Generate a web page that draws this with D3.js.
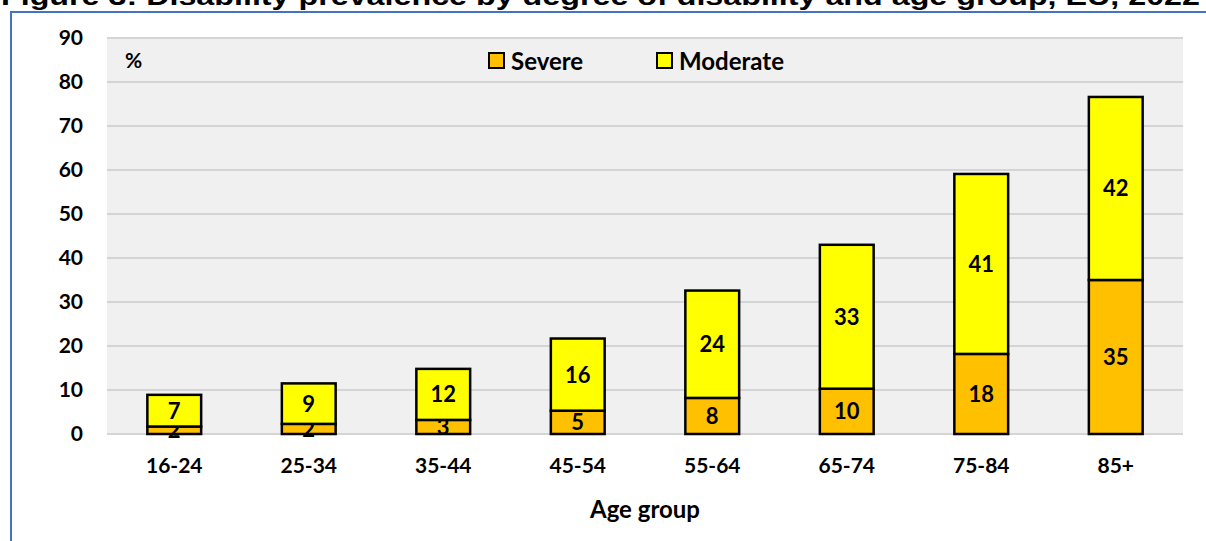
<!DOCTYPE html>
<html>
<head>
<meta charset="utf-8">
<script src="https://cdn.jsdelivr.net/npm/d3@7"></script>
<style>
  html, body { margin: 0; padding: 0; background: #ffffff; }
  svg { display: block; }
</style>
</head>
<body>
<svg id="chart" width="1206" height="541"></svg>
<script>
// Disability prevalence (%) by degree of disability and age group
const ageGroups = ["16-24", "25-34", "35-44", "45-54", "55-64", "65-74", "75-84", "85+"];
const severe    = [1.7, 2.3, 3.2, 5.3, 8.2, 10.3, 18.2, 35.0];
const moderate  = [7.2, 9.2, 11.6, 16.4, 24.4, 32.7, 40.9, 41.6];
const seriesNames = ["Severe", "Moderate"];
const seriesColors = ["#ffc000", "#ffff00"];
const yTicks = [0, 10, 20, 30, 40, 50, 60, 70, 80, 90];

const fontFamily = "Lato, 'Open Sans', sans-serif";
const svg = d3.select("#chart");

const plot = { left: 107, right: 1183, top: 38, bottom: 434 };

const x = d3.scaleBand()
  .domain(ageGroups)
  .range([plot.left, plot.right])
  .paddingInner(0.6)
  .paddingOuter(0.3);

const y = d3.scaleLinear()
  .domain([0, 90])
  .range([plot.bottom, plot.top]);

// Page title (runs off the top edge)
svg.append("text")
  .attr("x", 1)
  .attr("y", 5)
  .attr("textLength", 1199)
  .attr("lengthAdjust", "spacingAndGlyphs")
  .attr("font-family", "'Liberation Sans', Arial, sans-serif")
  .attr("font-weight", "bold")
  .attr("font-size", 26)
  .attr("fill", "#000")
  .text("Figure 3: Disability prevalence by degree of disability and age group, EU, 2022");

// Blue frame around the figure
svg.append("path")
  .attr("d", "M11,541 L11,12 L1206,12")
  .attr("fill", "none")
  .attr("stroke", "#4472c4")
  .attr("stroke-width", 2);

// Plot area background
svg.append("rect")
  .attr("x", plot.left)
  .attr("y", plot.top)
  .attr("width", plot.right - plot.left)
  .attr("height", plot.bottom - plot.top)
  .attr("fill", "#f0f0f0");

// Horizontal gridlines
svg.append("g")
  .selectAll("line")
  .data(yTicks)
  .join("line")
  .attr("x1", plot.left)
  .attr("x2", plot.right)
  .attr("y1", d => y(d))
  .attr("y2", d => y(d))
  .attr("stroke", "#d4d4d4")
  .attr("stroke-width", 2);

// Y axis
const yAxis = svg.append("g")
  .attr("transform", `translate(${plot.left},0)`)
  .call(d3.axisLeft(y).tickValues(yTicks).tickSize(0).tickPadding(24));
yAxis.select(".domain").remove();
yAxis.selectAll("text")
  .attr("font-family", fontFamily)
  .attr("font-weight", "bold")
  .attr("font-size", 21)
  .attr("fill", "#000");

// X axis
const xAxis = svg.append("g")
  .attr("transform", `translate(0,${plot.bottom})`)
  .call(d3.axisBottom(x).tickSize(0).tickPadding(24));
xAxis.select(".domain").remove();
xAxis.selectAll("text")
  .attr("font-family", fontFamily)
  .attr("font-weight", "bold")
  .attr("font-size", 21)
  .attr("fill", "#000");

// Axis title
svg.append("text")
  .attr("x", (plot.left + plot.right) / 2)
  .attr("y", 518)
  .attr("text-anchor", "middle")
  .attr("font-family", fontFamily)
  .attr("font-weight", "bold")
  .attr("font-size", 24)
  .attr("fill", "#000")
  .text("Age group");

// Unit label
svg.append("text")
  .attr("x", 125)
  .attr("y", 68)
  .attr("font-family", fontFamily)
  .attr("font-weight", "bold")
  .attr("font-size", 21)
  .attr("fill", "#000")
  .text("%");

// Stacked bars
const rows = ageGroups.map((g, i) => ({ group: g, Severe: severe[i], Moderate: moderate[i] }));
const stacked = d3.stack().keys(seriesNames)(rows);
const color = d3.scaleOrdinal().domain(seriesNames).range(seriesColors);

const layers = svg.append("g")
  .selectAll("g")
  .data(stacked)
  .join("g")
  .attr("fill", d => color(d.key));

layers.selectAll("rect")
  .data(d => d)
  .join("rect")
  .attr("x", d => x(d.data.group))
  .attr("width", x.bandwidth())
  .attr("y", d => y(d[1]))
  .attr("height", d => y(d[0]) - y(d[1]))
  .attr("stroke", "#000")
  .attr("stroke-width", 2.5);

// Value labels centred in each segment
const fmt = d3.format(".0f");
layers.selectAll("text")
  .data(d => d)
  .join("text")
  .attr("x", d => x(d.data.group) + x.bandwidth() / 2)
  .attr("y", d => (y(d[0]) + y(d[1])) / 2)
  .attr("dy", "0.36em")
  .attr("text-anchor", "middle")
  .attr("font-family", fontFamily)
  .attr("font-weight", "bold")
  .attr("font-size", 22)
  .attr("fill", "#000")
  .text(d => fmt(d[1] - d[0]));

// Legend
const legendItems = [
  { name: seriesNames[0], x: 489 },
  { name: seriesNames[1], x: 657 }
];
const legend = svg.append("g")
  .selectAll("g")
  .data(legendItems)
  .join("g")
  .attr("transform", d => `translate(${d.x},53)`);
legend.append("rect")
  .attr("width", 15)
  .attr("height", 15)
  .attr("fill", d => color(d.name))
  .attr("stroke", "#000")
  .attr("stroke-width", 2);
legend.append("text")
  .attr("x", 22)
  .attr("y", 8)
  .attr("dy", "0.36em")
  .attr("font-family", fontFamily)
  .attr("font-weight", "bold")
  .attr("font-size", 24)
  .attr("fill", "#000")
  .text(d => d.name);
</script>
</body>
</html>
